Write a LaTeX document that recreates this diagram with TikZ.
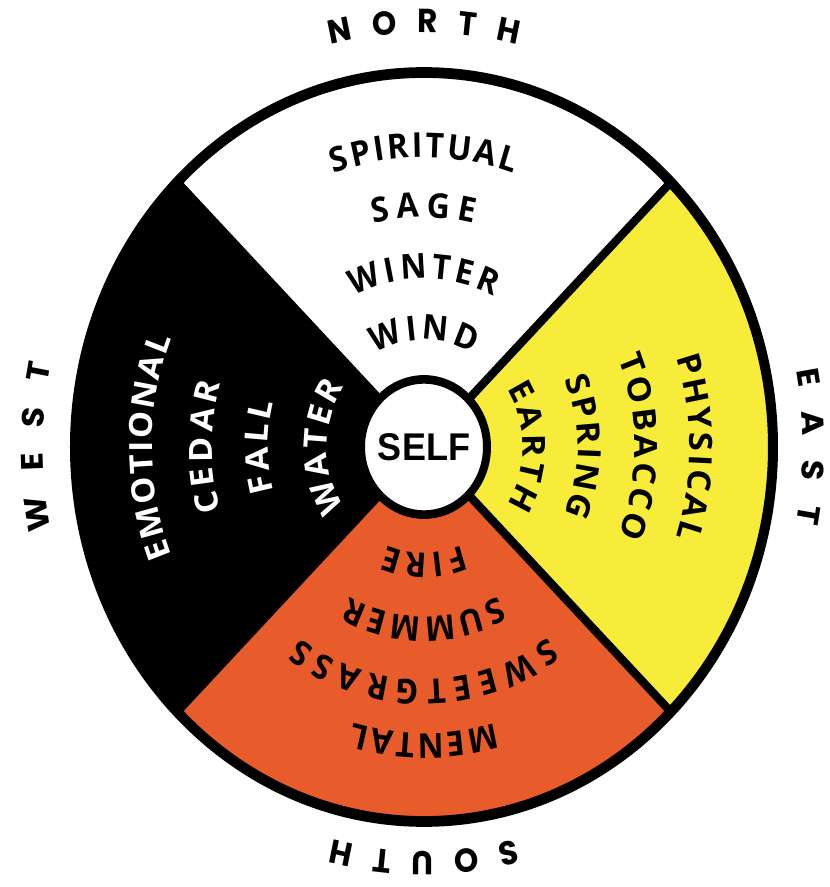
\documentclass[tikz,border=0pt]{standalone}
\usepackage{fontspec}
\usetikzlibrary{decorations.text}
\newfontfamily\wheelfont{Open Sans}
\newfontfamily\compassfont{Poppins}
\newfontfamily\selffont{Liberation Sans}
\definecolor{wyellow}{RGB}{247,236,58}
\definecolor{worange}{RGB}{232,91,42}
\newcommand\wfont{\wheelfont\bfseries\fontsize{32}{32}\selectfont}
\newcommand\wfontw{\wheelfont\bfseries\fontsize{32}{32}\selectfont\color{white}}
\newcommand\cfont{\compassfont\bfseries\fontsize{31}{31}\selectfont}
% #1 centre angle, #2 half span, #3 radius, #4 format, #5 text
\newcommand\wword[5]{%
  \path[decorate,decoration={text along path,text align={fit to path},text={|#4|#5}}]
    ({#1+#2}:#3) arc[start angle={#1+#2}, end angle={#1-#2}, radius=#3];}
\tikzset{
  divider/.style={line width=8pt,draw=black},
  rim/.style={line width=10pt,draw=black},
  selfdisc/.style={circle,draw=black,line width=8pt,fill=white,minimum size=126pt,inner sep=0pt,
    font=\selffont\bfseries\fontsize{36}{36}\selectfont}
}
\begin{document}
\begin{tikzpicture}[x=1pt,y=1pt]
\useasboundingbox (-424,-440) rectangle (406,447);
\begin{scope}[transform canvas={yscale=1.073}]
  \fill[white]   (0,0) -- (45:349)  arc[start angle=45,  end angle=135, radius=349] -- cycle;
  \fill[black]   (0,0) -- (135:349) arc[start angle=135, end angle=225, radius=349] -- cycle;
  \fill[worange] (0,0) -- (225:349) arc[start angle=225, end angle=315, radius=349] -- cycle;
  \fill[wyellow] (0,0) -- (-45:349) arc[start angle=-45, end angle=45,  radius=349] -- cycle;
  \foreach \a in {45,135,225,315} \draw[divider] (0,0) -- (\a:349);
  \draw[rim] (0,0) circle[radius=349];
  \node[selfdisc] (self) at (0,0) {SELF};
  % north
  \wword{90}{19.5}{270}{\wfont}{SPIRITUAL}
  \wword{90}{13.6}{214}{\wfont}{SAGE}
  \wword{90}{26.5}{157}{\wfont}{WINTER}
  \wword{90}{29.5}{100}{\wfont}{WIND}
  % east
  \wword{0}{18.3}{266}{\wfont}{PHYSICAL}
  \wword{0}{23}{211}{\wfont}{TOBACCO}
  \wword{0}{24}{154}{\wfont}{SPRING}
  \wword{0}{33}{99}{\wfont}{EARTH}
  % south
  \wword{270}{15.5}{267}{\wfont}{MENTAL}
  \wword{270}{35}{217}{\wfont}{SWEETGRASS}
  \wword{270}{28}{158}{\wfont}{SUMMER}
  \wword{270}{22.5}{99}{\wfont}{FIRE}
  % west
  \wword{180}{21.8}{272}{\wfontw}{EMOTIONAL}
  \wword{180}{16.3}{212}{\wfontw}{CEDAR}
  \wword{180}{15.5}{156}{\wfontw}{FALL}
  \wword{180}{35}{97}{\wfontw}{WATER}
  % compass
  \wword{90}{14}{386}{\cfont}{NORTH}
  \wword{0}{10.8}{379}{\cfont}{EAST}
  \wword{270}{14}{377}{\cfont}{SOUTH}
  \wword{180}{11.7}{381}{\cfont}{WEST}
\end{scope}
\end{tikzpicture}
\end{document}
